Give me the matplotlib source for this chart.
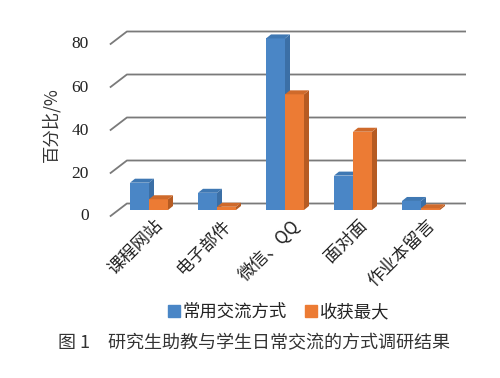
import matplotlib
matplotlib.use("Agg")
import matplotlib.pyplot as plt
from matplotlib.patches import Polygon
from matplotlib.lines import Line2D

plt.rcParams['font.family'] = ['Noto Sans CJK SC', 'DejaVu Sans']

categories = ["课程网站", "电子部件", "微信、QQ", "面对面", "作业本留言"]
series_names = ["常用交流方式", "收获最大"]
common = [12.7, 8.0, 79.8, 16.0, 4.2]
gain = [5.0, 1.5, 53.8, 36.4, 0.8]
yticks = [0, 20, 40, 60, 80]
ylabel = "百分比/%"
caption = "图 1　研究生助教与学生日常交流的方式调研结果"

blue = ["#4a86c6", "#3b6fa6", "#3f78b3"]     # front, side, top
orange = ["#ec7b34", "#b65b22", "#cf6a2b"]

W, H = 500, 378
fig = plt.figure(figsize=(W / 100, H / 100), dpi=100)
# pixel geometry: category spacing 68 px, 20 units = 43 px, base at 210 px from top
PX = 1 / 68.0
PY = 20 / 43.0
xlo, xhi = -0.7, 4.7
ylo, yhi = -5, 85
left_px = 149 + xlo / PX
bot_px = (H - 210) + ylo / PY
ax = fig.add_axes([left_px / W, bot_px / H, (xhi - xlo) / PX / W, (yhi - ylo) / PY / H])
ax.set_xlim(xlo, xhi)
ax.set_ylim(ylo, yhi)
ax.axis('off')

# gridlines (3D walls)
x_plane = -0.45
hx, hy = 8.5 * PX, 6.5 * PY
x_right = (466 - 149) * PX
for v in yticks:
    ax.plot([x_plane - hx, x_plane + hx, x_right], [v - hy, v + hy, v + hy],
            color="#7a7a7a", lw=1.3, solid_capstyle='butt', clip_on=False, zorder=1)
    ax.text(x_plane - hx - 21 * PX, v - hy, str(v), ha='right', va='center',
            fontsize=12.5, family='Liberation Serif', color='#222222')

ax.text(x_plane - hx - 59 * PX, 39.5, ylabel, rotation=90, ha='center', va='center',
        fontsize=12.5, color='#333333')

# bars
w = 19 * PX
dx, dy = 5 * PX, 4 * PY


def bar3d(x0, v, cols):
    ax.bar(x0, v, width=w, align='edge', color=cols[0], edgecolor='none', zorder=3)
    side = Polygon([[x0 + w, 0], [x0 + w + dx, dy], [x0 + w + dx, v + dy], [x0 + w, v]],
                   closed=True, facecolor=cols[1], edgecolor='none', zorder=3)
    top = Polygon([[x0, v], [x0 + dx, v + dy], [x0 + w + dx, v + dy], [x0 + w, v]],
                  closed=True, facecolor=cols[2], edgecolor='none', zorder=3)
    ax.add_patch(side)
    ax.add_patch(top)


for i in range(len(categories)):
    bar3d(i - w, common[i], blue)
    bar3d(i, gain[i], orange)

# category labels
for i, c in enumerate(categories):
    ax.text(i + 5 * PX, -3.0, c, rotation=45, rotation_mode='anchor', ha='right', va='top',
            fontsize=12.5, color='#222222')

# legend
handles = [Line2D([], [], marker='s', linestyle='none', markersize=8, color=blue[0]),
           Line2D([], [], marker='s', linestyle='none', markersize=8, color=orange[0])]
fig.legend(handles, series_names, loc='center', bbox_to_anchor=(278 / W, 66 / H), ncol=2,
           frameon=False, fontsize=12.5, handletextpad=0.1, columnspacing=1.0,
           handlelength=0.8, labelcolor='#222222')

fig.text(254 / W, 35 / H, caption, ha='center', va='center', fontsize=13, color='#333333')

fig.savefig("out.png", dpi=100, facecolor='white')
